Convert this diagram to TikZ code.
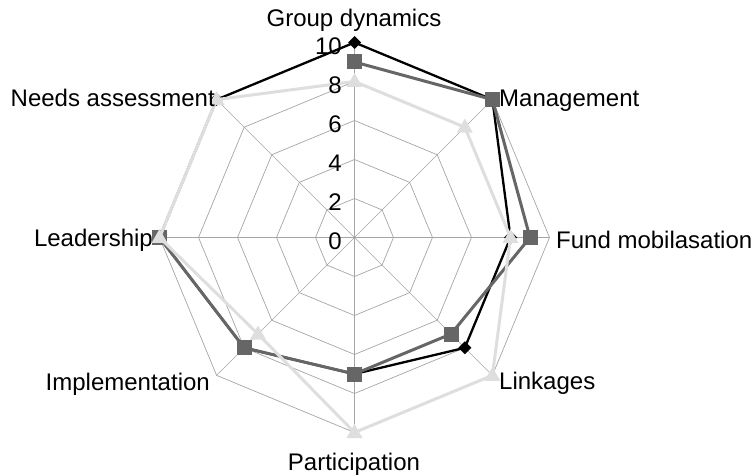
\documentclass[tikz,border=0pt]{standalone}
\usepackage{fontspec}
\setmainfont{Liberation Sans}
\usetikzlibrary{calc}
\definecolor{gridgray}{RGB}{165,165,165}
\definecolor{dgray}{RGB}{102,102,102}
\definecolor{lgray}{RGB}{222,222,222}
\begin{document}
\begin{tikzpicture}[x=1pt,y=-1pt,
  gridline/.style={draw=gridgray, line width=0.7pt},
  lbl/.style={font=\fontsize{24}{28}\selectfont, inner sep=0pt},
  ticklbl/.style={font=\fontsize{24}{28}\selectfont, inner sep=0pt, anchor=east},
  serA/.style={draw=black, line width=2.3pt, line join=miter},
  serB/.style={draw=dgray, line width=3pt, line join=miter},
  serL/.style={draw=lgray, line width=3pt, line join=miter}]
\useasboundingbox (0,0) rectangle (756,476);
\coordinate (C) at (354.5,237.5);
% grid rings
\foreach \v in {2,4,6,8,10} {
  \pgfmathsetmacro{\rr}{\v*19.5}
  \draw[gridline] ($(C)+(-90:\rr)$) -- ($(C)+(-45:\rr)$) -- ($(C)+(0:\rr)$) -- ($(C)+(45:\rr)$)
    -- ($(C)+(90:\rr)$) -- ($(C)+(135:\rr)$) -- ($(C)+(180:\rr)$) -- ($(C)+(225:\rr)$) -- cycle;
}
% spokes
\foreach \k in {0,...,7} {
  \pgfmathsetmacro{\aa}{-90+45*\k}
  \coordinate (S\k) at ($(C)+(\aa:195)$);
  \draw[gridline] (C) -- (S\k);
}
% series coordinates
\foreach \k/\v in {0/10,1/10,2/8,3/8,4/7,5/8,6/10,7/10} {
  \pgfmathsetmacro{\aa}{-90+45*\k}\pgfmathsetmacro{\rr}{\v*19.5}
  \coordinate (A\k) at ($(C)+(\aa:\rr)$);
}
\foreach \k/\v in {0/9,1/10,2/9,3/7,4/7,5/8,6/10} {
  \pgfmathsetmacro{\aa}{-90+45*\k}\pgfmathsetmacro{\rr}{\v*19.5}
  \coordinate (B\k) at ($(C)+(\aa:\rr)$);
}
\foreach \k/\v in {0/8,1/8,2/8,3/10,4/10,5/7,6/10,7/10} {
  \pgfmathsetmacro{\aa}{-90+45*\k}\pgfmathsetmacro{\rr}{\v*19.5}
  \coordinate (L\k) at ($(C)+(\aa:\rr)$);
}
% series A (black, diamonds)
\draw[serA] (A0) -- (A1) -- (A2) -- (A3) -- (A4) -- (A5) -- (A6) -- (A7) -- cycle;
\foreach \k in {0,...,7} {
  \fill[black] ($(A\k)+(0,-6.5)$) -- ++(6.5,6.5) -- ++(-6.5,6.5) -- ++(-6.5,-6.5) -- cycle;
}
% series B (dark gray, squares)
\draw[serB] (B0) -- (B1) -- (B2) -- (B3) -- (B4) -- (B5) -- (B6);
\foreach \k in {0,...,6} {
  \fill[dgray] ($(B\k)+(-7.5,-7.5)$) rectangle ++(15,15);
}
% series L (light gray, triangles)
\draw[serL] (L0) -- (L1) -- (L2) -- (L3) -- (L4) -- (L5) -- (L6) -- (L7) -- cycle;
\foreach \k in {0,...,7} {
  \fill[lgray] ($(L\k)+(0,-8.5)$) -- ++(8,14) -- ++(-16,0) -- cycle;
}
% tick labels
\node[ticklbl] (t10) at (342,46.5) {10};
\node[ticklbl] (t8) at (342,85.5) {8};
\node[ticklbl] (t6) at (342,124.5) {6};
\node[ticklbl] (t4) at (342,163.5) {4};
\node[ticklbl] (t2) at (342,202.5) {2};
\node[ticklbl] (t0) at (342,241.5) {0};
% axis labels
\node[lbl, anchor=base] (lGD) at (354,27) {Group dynamics};
\node[lbl, anchor=base west] (lMG) at (499,107) {Management};
\node[lbl, anchor=base west] (lFM) at (556,248) {Fund mobilasation};
\node[lbl, anchor=base west] (lLK) at (499,389) {Linkages};
\node[lbl, anchor=base] (lPA) at (354,470) {Participation};
\node[lbl, anchor=base east] (lIM) at (210,390) {Implementation};
\node[lbl, anchor=base east] (lLE) at (153,247) {Leadership};
\node[lbl, anchor=base east] (lNA) at (215,107) {Needs assessment};
\end{tikzpicture}
\end{document}
